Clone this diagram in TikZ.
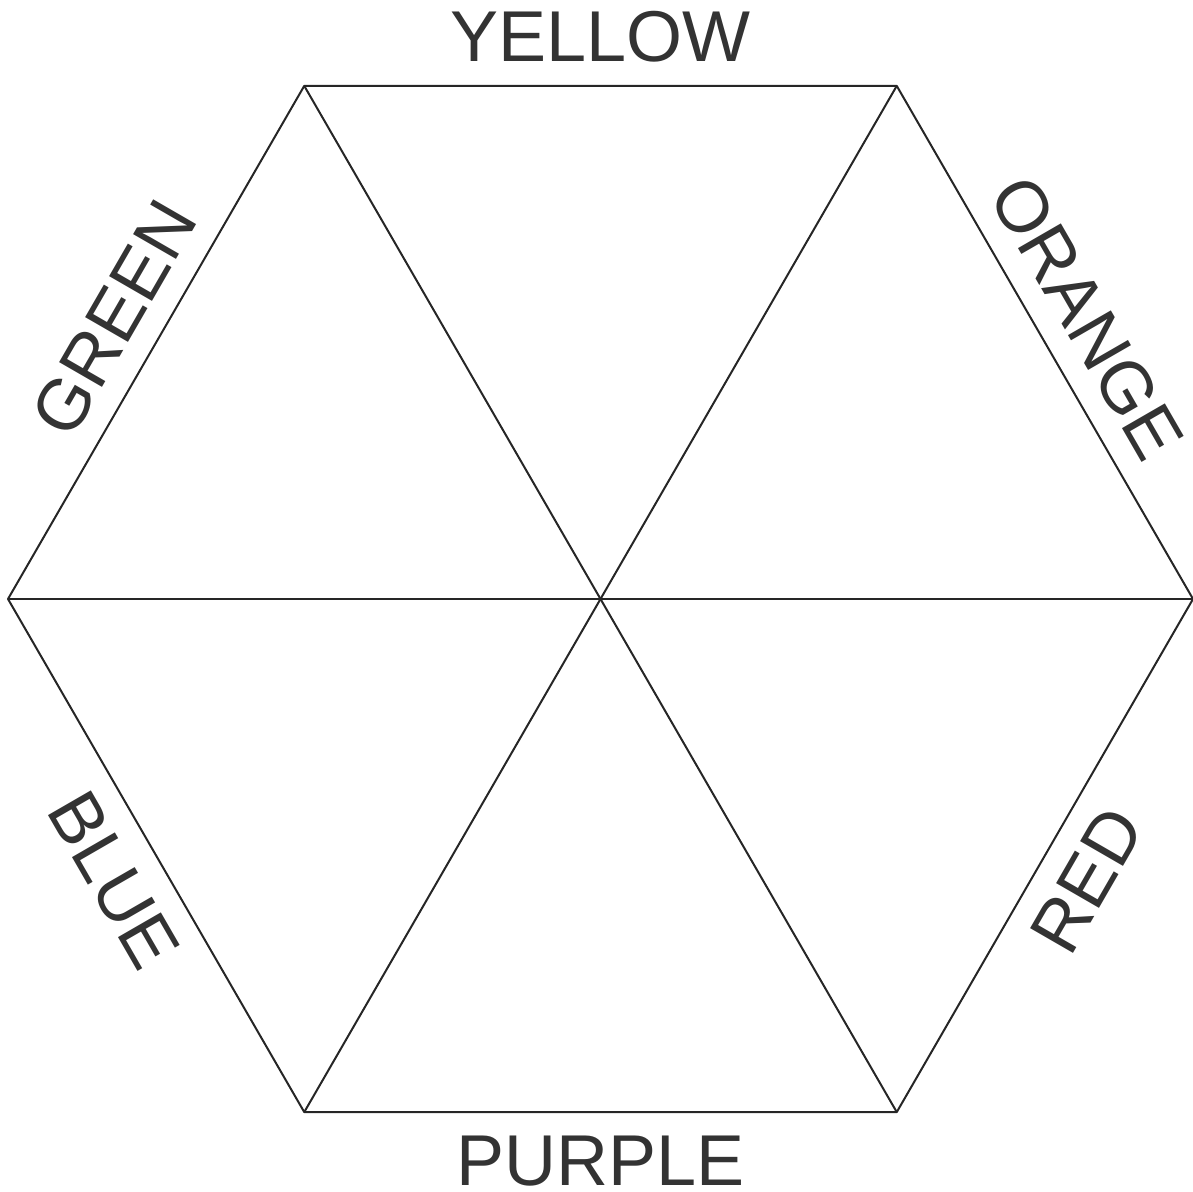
\documentclass[tikz,border=0pt]{standalone}
\usepackage{fontspec}
\setmainfont{Liberation Sans}
\usepackage{tikz}
\usetikzlibrary{positioning}

\definecolor{edgegray}{HTML}{262626}
\definecolor{labelgray}{HTML}{333333}

\begin{document}
\begin{tikzpicture}[x=1pt, y=1pt, every node/.style={font=\fontsize{72}{80}\selectfont, text=labelgray, inner sep=0pt}, edge/.style={draw=edgegray, line width=2pt, line join=round}]
	\useasboundingbox (0,0) rectangle (1193,1191);
	
	% Hexagon corners
	\coordinate (centre) at (600.5,592);
	\coordinate (east) at (1193,592);
	\coordinate (northeast) at (896.75,1105.1);
	\coordinate (northwest) at (304.25,1105.1);
	\coordinate (west) at (8,592);
	\coordinate (southwest) at (304.25,78.9);
	\coordinate (southeast) at (896.75,78.9);
	
	% Colour names
	\node (yellow) at (600.5,1154) {YELLOW};
	\node (purple) at (600.5,30) {PURPLE};
	\node (green) [rotate=60] at (113.8,873) {GREEN};
	\node (orange) [rotate=-60] at (1087.2,873) {ORANGE};
	\node (blue) [rotate=-60] at (113.8,311) {BLUE};
	\node (red) [rotate=60] at (1087.2,311) {RED};
	
	% Outline
	\draw[edge] (east) -- (northeast) -- (northwest) -- (west) -- (southwest) -- (southeast) -- cycle;
	
	% Spokes
	\draw[edge] (west) -- (east);
	\draw[edge] (northwest) -- (southeast);
	\draw[edge] (northeast) -- (southwest);
\end{tikzpicture}
\end{document}
